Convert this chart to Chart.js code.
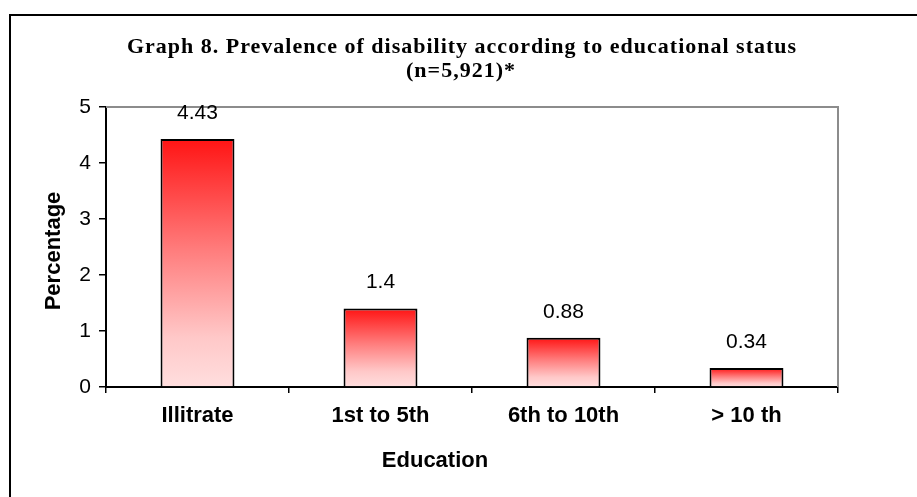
<!DOCTYPE html>
<html>
<head>
<meta charset="utf-8">
<script src="https://cdn.jsdelivr.net/npm/chart.js@4"></script>
<style>
  html, body { margin: 0; padding: 0; background: #fff; overflow: hidden; }
  #wrap { width: 917px; height: 497px; position: relative; }
</style>
</head>
<body>
<div id="wrap"><canvas id="grafico"></canvas></div>
<script>
// dados do grafico
const categories = ['Illitrate', '1st to 5th', '6th to 10th', '> 10 th'];
const percentages = [4.43, 1.4, 0.88, 0.34];
const yMin = 0;
const yMax = 5;
const titleLines = ['Graph 8. Prevalence of disability according to educational status', '(n=5,921)*'];
const xTitle = 'Education';
const yTitle = 'Percentage';

const sans = "'Liberation Sans', Arial, sans-serif";
const serif = "'Liberation Serif', 'Times New Roman', serif";

// degrade vermelho em cada barra
function barGradient(context) {
    const chart = context.chart;
    const y = chart.scales.y;
    if (!chart.chartArea || !y) return '#ff4040';
    const top = y.getPixelForValue(context.raw);
    const base = y.getPixelForValue(0);
    const g = chart.ctx.createLinearGradient(0, top, 0, base);
    g.addColorStop(0, '#ff1414');
    g.addColorStop(0.45, '#ff7d7d');
    g.addColorStop(0.8, '#ffc8c8');
    g.addColorStop(1, '#ffdede');
    return g;
}

// moldura, titulo, rotulos
const decor = {
    id: 'decor',
    beforeDraw(chart) {
        const ctx = chart.ctx;
        ctx.save();
        ctx.strokeStyle = '#000';
        ctx.lineWidth = 2;
        ctx.strokeRect(10, 15, 1200, 1200);

        ctx.fillStyle = '#000';
        ctx.font = 'bold 22px ' + serif;
        ctx.letterSpacing = '1px';
        ctx.textAlign = 'center';
        ctx.textBaseline = 'alphabetic';
        ctx.fillText(titleLines[0], 462, 53);
        ctx.fillText(titleLines[1], 461, 77);
        ctx.letterSpacing = '0px';

        ctx.font = 'bold 22px ' + sans;
        ctx.textBaseline = 'middle';
        ctx.fillText(xTitle, 435, 461);
        ctx.translate(54, 251);
        ctx.rotate(-Math.PI / 2);
        ctx.fillText(yTitle, 0, 0);
        ctx.restore();
    },
    beforeDatasetsDraw(chart) {
        const ctx = chart.ctx;
        const a = chart.chartArea;
        ctx.save();
        ctx.strokeStyle = '#8c8c8c';
        ctx.lineWidth = 2;
        ctx.beginPath();
        ctx.moveTo(a.left, a.top);
        ctx.lineTo(a.right, a.top);
        ctx.lineTo(a.right, a.bottom);
        ctx.stroke();
        ctx.restore();
    },
    afterDatasetsDraw(chart) {
        const ctx = chart.ctx;
        ctx.save();
        ctx.fillStyle = '#000';
        ctx.font = '21px ' + sans;
        ctx.textAlign = 'center';
        ctx.textBaseline = 'middle';
        chart.getDatasetMeta(0).data.forEach((bar, i) => {
            ctx.fillText(String(percentages[i]), bar.x, bar.y - 26);
        });
        ctx.restore();
    }
};

new Chart(document.getElementById('grafico'), {
    type: 'bar',
    data: {
        labels: categories,
        datasets: [{
            data: percentages,
            backgroundColor: barGradient,
            borderColor: '#000',
            borderWidth: 2,
            categoryPercentage: 1,
            barPercentage: 0.404
        }]
    },
    options: {
        responsive: true,
        maintainAspectRatio: false,
        animation: false,
        layout: { padding: { top: 107, right: 79, bottom: 0, left: 0 } },
        plugins: {
            legend: { display: false },
            tooltip: { enabled: false },
            title: { display: false }
        },
        scales: {
            x: {
                afterFit(s) { s.height = 110; },
                grid: { offset: true, drawOnChartArea: false, drawTicks: true, tickLength: 6, color: '#000', lineWidth: 1.5 },
                border: { display: true, color: '#000', width: 2 },
                ticks: { color: '#000', font: { family: sans, size: 22, weight: 'bold' }, padding: 10, maxRotation: 0 }
            },
            y: {
                min: yMin,
                max: yMax,
                afterFit(s) { s.width = 106; },
                grid: { drawOnChartArea: false, drawTicks: true, tickLength: 7, color: '#000', lineWidth: 1.5 },
                border: { display: true, color: '#000', width: 2 },
                ticks: { stepSize: 1, color: '#000', font: { family: sans, size: 21 }, padding: 8 }
            }
        }
    },
    plugins: [decor]
});
</script>
</body>
</html>
